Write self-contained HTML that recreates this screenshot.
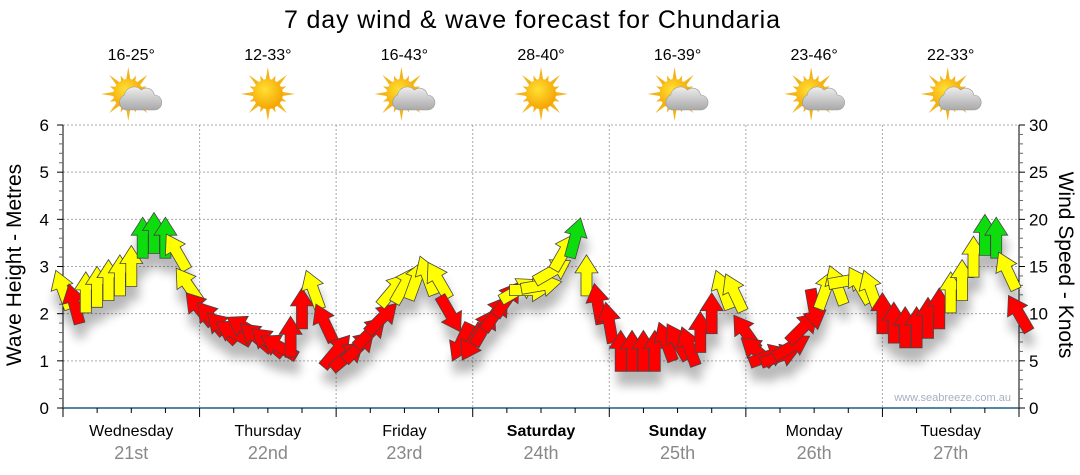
<!DOCTYPE html>
<html><head><meta charset="utf-8"><style>
html,body{margin:0;padding:0;background:#fff;width:1080px;height:475px;overflow:hidden}
svg{display:block;font-family:"Liberation Sans",sans-serif}
</style></head><body>
<svg id="chart" width="1080" height="475" viewBox="0 0 1080 475">
<defs>
<filter id="sh" x="-50%" y="-50%" width="200%" height="250%"><feGaussianBlur in="SourceAlpha" stdDeviation="5"/><feOffset dy="14" dx="2"/><feComponentTransfer><feFuncA type="linear" slope="0.28"/></feComponentTransfer><feMerge><feMergeNode/><feMergeNode in="SourceGraphic"/></feMerge></filter>
<radialGradient id="sun" cx="0.4" cy="0.35" r="0.7"><stop offset="0" stop-color="#ffe033"/><stop offset="1" stop-color="#f5a000"/></radialGradient>
<linearGradient id="cloud" x1="0" y1="0" x2="0" y2="1"><stop offset="0" stop-color="#eeeeee"/><stop offset="1" stop-color="#a8a8a8"/></linearGradient>
</defs>
<text x="532" y="28" font-size="25" text-anchor="middle" textLength="496" fill="#000">7 day wind &amp; wave forecast for Chundaria</text>
<g id="grid"></g>
<g id="axes"></g>
<g id="wx"></g>
<g id="arrows" filter="url(#sh)"></g>
<text x="1011" y="401" font-size="11" text-anchor="end" fill="#a8b0c0">www.seabreeze.com.au</text>
<text transform="translate(21,265) rotate(-90)" font-size="21" text-anchor="middle">Wave Height - Metres</text>
<text transform="translate(1059,265) rotate(90)" font-size="21" text-anchor="middle">Wind Speed - Knots</text>
</svg>
<script>
const days = ["Wednesday","Thursday","Friday","Saturday","Sunday","Monday","Tuesday"];
const dates = ["21st","22nd","23rd","24th","25th","26th","27th"];
const boldDays = [false,false,false,true,true,false,false];
const temps = ["16-25°","12-33°","16-43°","28-40°","16-39°","23-46°","22-33°"];
const cloudy = [true,false,true,false,true,true,true];
const waveTicks = [0,1,2,3,4,5,6];
const windTicks = [0,5,10,15,20,25,30];
// wind speed (knots) every 2 hours from Wednesday 00:00
const windSpeed = [
 12.5,11,12.2,12.8,13.5,14,15,18,18.5,18,16.5,13,
 10.5,9.5,8.5,8,8.5,7.5,7,6.5,7.5,10.5,12.5,9,
 6,5.5,6.5,8,9.5,12.5,13,13.5,14,13.5,10,7,
 7,8.5,10,11.5,12.5,12.5,13,14.5,16.5,18,14,11,
 9,6,6,6,6,7,7,6.5,8,10,12.5,12.2,
 8,6,5.5,5.5,6.5,8.5,10.5,12.5,13,13.5,13,12.5,
 10,9,8.5,8.5,9.5,10.5,12.2,13.5,16,18.3,18,14.5,10];
// arrow heading in degrees (0 = up, clockwise)
const windDir = [
 -20,-15,0,0,0,0,0,0,0,0,-30,-35,
 -40,-40,-45,-60,-60,-50,-50,-60,0,0,-20,-25,
 40,50,45,45,45,40,30,20,-20,-30,150,205,
 210,30,35,35,60,90,80,60,30,15,0,-10,
 -10,0,0,0,0,-20,-30,-20,0,0,-20,-25,
 -35,-50,70,70,60,45,170,20,-20,80,-30,-20,
 0,0,0,0,0,0,0,0,0,0,0,-25,-30];

const NS="http://www.w3.org/2000/svg";
const X0=63, X1=1019, Y0=408, Y6=125;
const dayW=(X1-X0)/7;
const xT=h=>X0+h/24*dayW;
const yM=m=>Y0-(Y0-Y6)*m/6;
const yK=k=>Y0-(Y0-Y6)*k/30;
function mk(tag,attrs,parent){const e=document.createElementNS(NS,tag);for(const k in attrs)e.setAttribute(k,attrs[k]);parent.appendChild(e);return e;}
const grid=document.getElementById('grid'), axes=document.getElementById('axes'), wx=document.getElementById('wx'), ar=document.getElementById('arrows');
for(let m=1;m<=6;m++){const l=mk('line',{x1:X0,x2:X1,y1:yM(m),y2:yM(m),stroke:'#aaa','stroke-dasharray':'2,2'},grid);

}
for(let d=1;d<7;d++){const l=mk('line',{x1:X0+d*dayW,x2:X0+d*dayW,y1:Y6,y2:Y0,stroke:'#aaa','stroke-dasharray':'2,2'},grid);

}
mk('line',{x1:X0,x2:X0,y1:Y6,y2:Y0,stroke:'#000'},axes);
mk('line',{x1:X1,x2:X1,y1:Y6,y2:Y0,stroke:'#000'},axes);
for(let i=0;i<=30;i++){const y=Y0-(Y0-Y6)*i/30;const maj=i%5==0;
 mk('line',{x1:X0-(maj?6:4),x2:X0,y1:y,y2:y,stroke:maj?'#000':'#666'},axes);
 mk('line',{x1:X1,x2:X1+(maj?6:4),y1:y,y2:y,stroke:maj?'#000':'#666'},axes);}
waveTicks.forEach(m=>{const t=mk('text',{x:X0-14,y:yM(m)+6,'font-size':17,'text-anchor':'end'},axes);t.textContent=m;

});
windTicks.forEach(k=>{const t=mk('text',{x:X1+10,y:yK(k)+6,'font-size':17},axes);t.textContent=k;

});
mk('line',{x1:X0,x2:X1,y1:Y0,y2:Y0,stroke:'#1f5f86','stroke-width':1.5},axes);
for(let q=0;q<=28;q++){const x=X0+q*dayW/4;mk('line',{x1:x,x2:x,y1:Y0,y2:Y0+(q%4==0?9:5),stroke:'#000'},axes);}
days.forEach((d,i)=>{const cx=X0+(i+0.5)*dayW;
 const t=mk('text',{x:cx,y:436,'font-size':16,'text-anchor':'middle','font-weight':boldDays[i]?'bold':'normal'},axes);t.textContent=d;
 
 
 const t2=mk('text',{x:cx,y:459,'font-size':18,'text-anchor':'middle',fill:'#888'},axes);t2.textContent=dates[i];
 
 
 const tt=mk('text',{x:cx,y:60,'font-size':16,'text-anchor':'middle'},wx);tt.textContent=temps[i];
 
 
 const g=mk('g',{transform:`translate(${cx-(cloudy[i]?3:0)},94)`},wx);
 
 
 for(let r=0;r<16;r++){const a=r*22.5,L=r%2?20:27;mk('polygon',{points:`-2.5,-12 2.5,-12 0,${-L}`,fill:'#f2b418',transform:`rotate(${a})`},g);}
 mk('circle',{cx:0,cy:0,r:15,fill:'url(#sun)'},g);
 if(cloudy[i]){mk('path',{d:'M-6,16 a8,8 0 0 1 -1,-15 a10,10 0 0 1 17,-5 a8,8 0 0 1 13,5 a6,6 0 0 1 0,15 z',fill:'url(#cloud)',stroke:'#999','stroke-width':0.6,transform:'translate(3,0)'},g);}
});
windSpeed.forEach((s,i)=>{
 const x=xT(i*2), y=yK(s);
 const col=s>=17.8?'#11dd11':(s>=12?'#ffff00':'#ff0000');
 const p=mk('polygon',{points:'0,-21 11.5,-3 5.5,-3 5.5,20 -5.5,20 -5.5,-3 -11.5,-3',fill:col,stroke:'#444','stroke-width':0.8,'stroke-linejoin':'miter',transform:`translate(${x.toFixed(1)},${y.toFixed(1)}) rotate(${windDir[i]})`},ar);
 
 
});
</script>
</body></html>
